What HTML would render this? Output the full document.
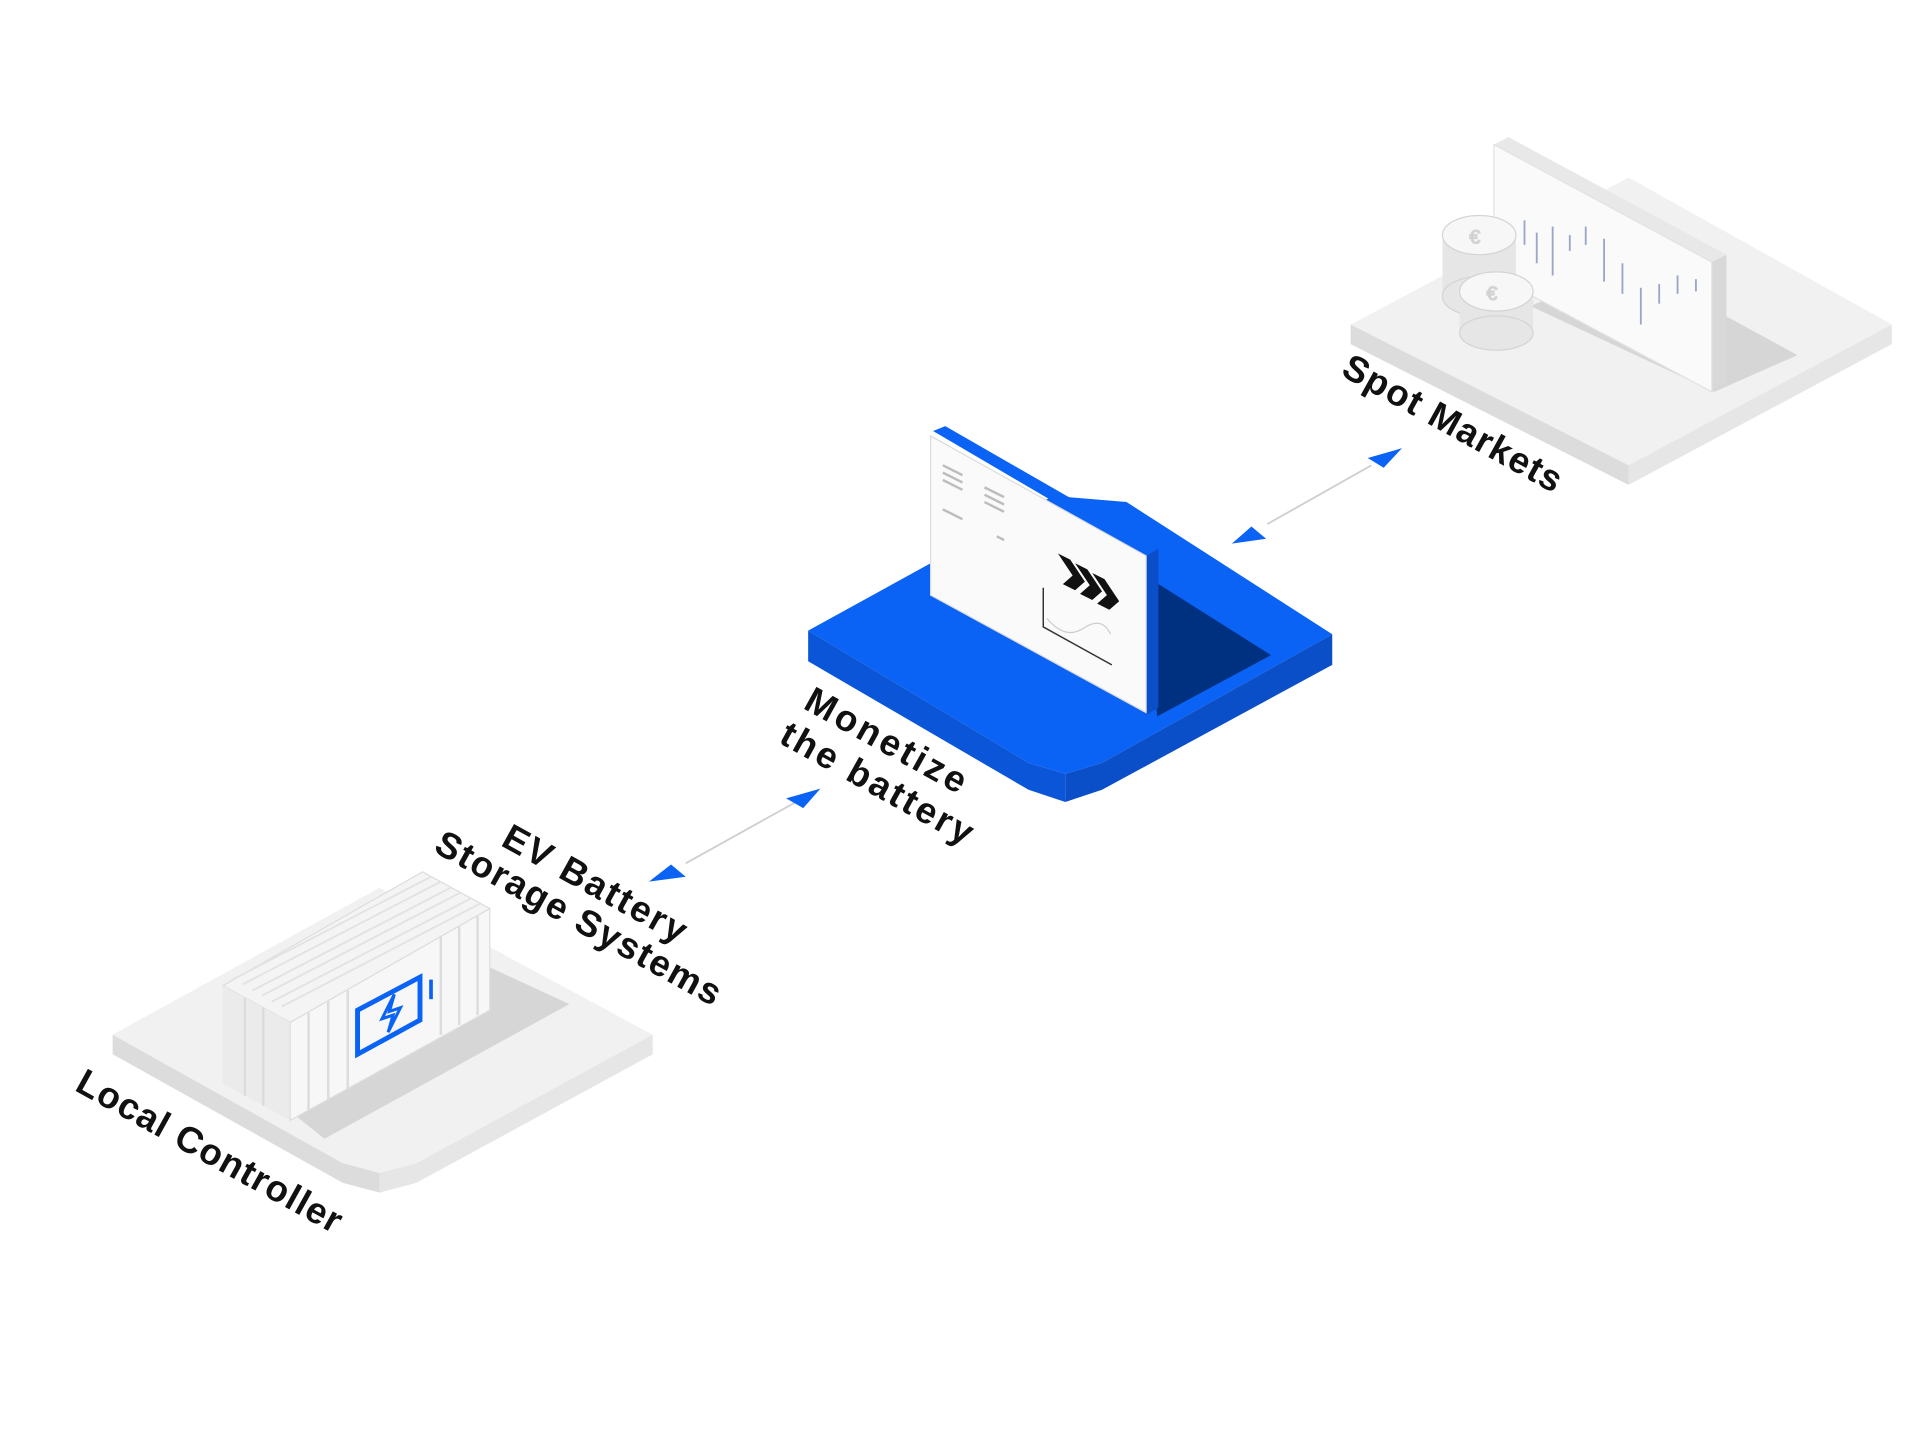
<!DOCTYPE html>
<html><head><meta charset="utf-8"><style>
html,body{margin:0;padding:0;background:#fff;}
svg{display:block}
text{font-family:"Liberation Sans",sans-serif;font-weight:bold;fill:#111;}
</style></head><body>
<svg width="1920" height="1440" viewBox="0 0 1568 1176" xmlns="http://www.w3.org/2000/svg">
<!-- Spot markets platform -->
<polygon points="1103,265 1330,145 1545,265 1330,380" fill="#f1f1f1"/>
<polygon points="1103,265 1330,380 1330,396 1103,281" fill="#dcdcdc"/>
<polygon points="1330,380 1545,265 1545,281 1330,396" fill="#e6e6e6"/>
<polygon points="1250,250 1400,320 1468,290 1330,215" fill="#d6d6d6"/>
<!-- phone -->
<polygon points="1220,118 1232,112 1410,208 1398,214" fill="#e8e8e8"/>
<polygon points="1398,214 1410,208 1410,312 1398,320" fill="#d8d8d8"/>
<polygon points="1220,118 1398,214 1398,320 1220,225" fill="#fafafa" stroke="#e2e2e2"/>
<g stroke="#9aa6c8" stroke-width="1.5">
<line x1="1245" y1="180" x2="1245" y2="200"/><line x1="1255" y1="190" x2="1255" y2="215"/>
<line x1="1268" y1="185" x2="1268" y2="225"/><line x1="1282" y1="192" x2="1282" y2="205"/>
<line x1="1295" y1="185" x2="1295" y2="200"/><line x1="1310" y1="195" x2="1310" y2="230"/>
<line x1="1325" y1="215" x2="1325" y2="240"/><line x1="1340" y1="235" x2="1340" y2="265"/>
<line x1="1355" y1="232" x2="1355" y2="248"/><line x1="1370" y1="225" x2="1370" y2="240"/>
<line x1="1385" y1="228" x2="1385" y2="238"/></g>
<!-- coins -->
<g stroke="#d4d4d4">
<rect x="1178" y="192" width="60" height="50" fill="#e6e6e6" stroke="none"/>
<ellipse cx="1208" cy="242" rx="30" ry="16" fill="#e6e6e6"/>
<ellipse cx="1208" cy="192" rx="30" ry="16" fill="#f7f7f7"/>
<text x="1200" y="199" font-size="16" fill="#ccc" style="fill:#ccc;font-weight:normal">€</text>
<rect x="1192" y="238" width="60" height="34" fill="#e6e6e6" stroke="none"/>
<ellipse cx="1222" cy="272" rx="30" ry="14" fill="#e6e6e6"/>
<ellipse cx="1222" cy="238" rx="30" ry="16" fill="#f7f7f7"/>
<text x="1214" y="245" font-size="16" style="fill:#ccc;font-weight:normal">€</text>
</g>
<!-- blue platform -->
<polygon points="660,515 860,405 920,410 1088,518 900,623 870,632 840,623" fill="#0a63f5"/>
<polygon points="660,515 840,623 870,632 870,655 840,645 660,540" fill="#0a55d8"/>
<polygon points="870,632 900,623 1088,518 1088,543 900,645 870,655" fill="#0b4fc8"/>
<polygon points="935,470 1038,535 945,585" fill="#003080"/>
<!-- panel -->
<polygon points="762,352 772,348 946,448 936,454" fill="#0a63f5"/>
<polygon points="936,454 946,448 946,578 936,584" fill="#0a4fc8"/>
<polygon points="760,356 936,454 936,582 760,486" fill="#fafafa" stroke="#dcdcdc"/>
<g stroke="#bdbdbd" stroke-width="2">
<line x1="770" y1="380" x2="786" y2="388"/><line x1="770" y1="386" x2="786" y2="394"/><line x1="770" y1="392" x2="786" y2="400"/>
<line x1="804" y1="398" x2="820" y2="406"/><line x1="804" y1="404" x2="820" y2="412"/><line x1="804" y1="410" x2="820" y2="418"/>
<line x1="770" y1="416" x2="786" y2="424"/><line x1="814" y1="438" x2="820" y2="441"/></g>
<g fill="#111">
<polygon points="864,452 874,457 886,475 878,482 868,477 876,470"/>
<polygon points="878,460 888,465 900,483 892,490 882,485 890,478"/>
<polygon points="892,468 902,473 914,491 906,498 896,493 904,486"/>
</g>
<polyline points="852,480 852,512 908,543" fill="none" stroke="#333" stroke-width="1.2"/>
<path d="M855,505 q15,18 30,8 t22,5" fill="none" stroke="#ccc"/>
<!-- local controller platform -->
<polygon points="92,845 310,725 533,845 340,950 310,958 280,950" fill="#f1f1f1"/>
<polygon points="92,845 280,950 310,958 310,974 280,966 92,861" fill="#dcdcdc"/>
<polygon points="310,958 340,950 533,845 533,861 340,966 310,974" fill="#e6e6e6"/>
<polygon points="240,910 400,790 465,820 265,930" fill="#d6d6d6"/>
<!-- container -->
<polygon points="182,805 345,712 400,742 237,835" fill="#f4f4f4" stroke="#ddd"/>
<polygon points="182,805 237,835 237,915 182,885" fill="#ebebeb"/>
<polygon points="237,835 400,742 400,825 237,915" fill="#f7f7f7" stroke="#ddd"/>
<g stroke="#e2e2e2" stroke-width="1.5">
<line x1="190" y1="800" x2="352" y2="716"/><line x1="198" y1="804" x2="360" y2="720"/>
<line x1="206" y1="809" x2="368" y2="725"/><line x1="214" y1="813" x2="376" y2="729"/>
<line x1="222" y1="818" x2="384" y2="734"/><line x1="230" y1="822" x2="392" y2="738"/></g>
<g stroke="#dcdcdc" stroke-width="2">
<line x1="252" y1="827" x2="252" y2="907"/><line x1="268" y1="818" x2="268" y2="898"/>
<line x1="284" y1="809" x2="284" y2="890"/><line x1="360" y1="765" x2="360" y2="845"/>
<line x1="375" y1="757" x2="375" y2="837"/><line x1="390" y1="748" x2="390" y2="829"/>
<line x1="200" y1="815" x2="200" y2="895"/><line x1="215" y1="823" x2="215" y2="903"/></g>
<polygon points="292,825 343,798 343,833 292,861" fill="none" stroke="#0a63f5" stroke-width="4"/>
<line x1="352" y1="800" x2="352" y2="816" stroke="#0a63f5" stroke-width="3"/>
<path d="M322,812 l-10,20 l9,-3 l-4,14 l10,-20 l-9,3z" fill="none" stroke="#0a63f5" stroke-width="2.5"/>
<!-- connectors -->
<line x1="560" y1="705" x2="650" y2="655" stroke="#cfcfcf" stroke-width="1.5"/>
<polygon points="530,720 548,706 560,716" fill="#0a63f5"/>
<polygon points="670,644 642,652 656,660" fill="#0a63f5"/>
<line x1="1035" y1="428" x2="1120" y2="380" stroke="#cfcfcf" stroke-width="1.5"/>
<polygon points="1006,444 1022,430 1034,440" fill="#0a63f5"/>
<polygon points="1145,366 1117,374 1130,382" fill="#0a63f5"/>
<!-- labels -->
<text x="1094" y="306" font-size="30" transform="rotate(29 1094 306)" textLength="200">Spot Markets</text>
<text x="655" y="578" font-size="30" transform="rotate(29 655 578)" textLength="146">Monetize</text>
<text x="635" y="606" font-size="30" transform="rotate(29 635 606)" textLength="175">the battery</text>
<text x="408" y="690" font-size="30" transform="rotate(29 408 690)" textLength="167">EV Battery</text>
<text x="353" y="695" font-size="30" transform="rotate(29 353 695)" textLength="262">Storage Systems</text>
<text x="60" y="890" font-size="30" transform="rotate(29 60 890)" textLength="243">Local Controller</text>
</svg>
</body></html>
